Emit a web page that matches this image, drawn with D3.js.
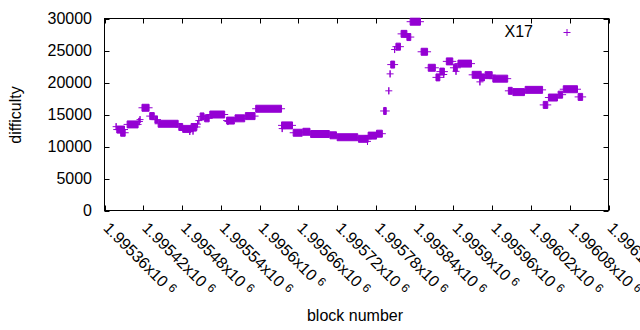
<!DOCTYPE html>
<html>
<head>
<meta charset="utf-8">
<script src="https://cdn.jsdelivr.net/npm/d3@7"></script>
<style>
    body { margin: 0; background: #fff; }
    svg { display: block; }
    text { font-family: "Liberation Sans", Arial, sans-serif; fill: #000; }
</style>
</head>
<body>
<div id="chart"></div>
<script>
// Runs of blocks sharing the same difficulty: [first block, last block, difficulty]
const runStart = [
    1995378, 1995379, 1995385, 1995395, 1995413, 1995415, 1995418, 1995430, 1995438, 1995443,
    1995475, 1995481, 1995492, 1995497, 1995494, 1995504, 1995506, 1995508, 1995515, 1995523,
    1995551, 1995549, 1995562, 1995578, 1995594, 1995635, 1995634, 1995652, 1995667, 1995679,
    1995709, 1995720, 1995753, 1995767, 1995768, 1995781, 1995792, 1995800, 1995802, 1995803,
    1995809, 1995811, 1995819, 1995828, 1995833, 1995850, 1995861, 1995873, 1995879, 1995885,
    1995889, 1995900, 1995904, 1995907, 1995929, 1995941, 1995941, 1995949, 1995961, 1995985,
    1995992, 1996011, 1996039, 1996047, 1996062, 1996070, 1996093
];
const runEnd = [
    1995378, 1995391, 1995392, 1995412, 1995414, 1995415, 1995429, 1995437, 1995442, 1995474,
    1995481, 1995494, 1995492, 1995497, 1995503, 1995504, 1995506, 1995514, 1995522, 1995546,
    1995551, 1995561, 1995577, 1995593, 1995634, 1995635, 1995651, 1995666, 1995678, 1995708,
    1995719, 1995752, 1995768, 1995767, 1995781, 1995790, 1995796, 1995800, 1995802, 1995809,
    1995809, 1995818, 1995828, 1995834, 1995849, 1995860, 1995872, 1995879, 1995886, 1995885,
    1995899, 1995906, 1995904, 1995928, 1995943, 1995941, 1995948, 1995960, 1995984, 1995991,
    1996010, 1996038, 1996046, 1996061, 1996069, 1996092, 1996100
];
const runDiff = [
    13100, 12650, 12150, 13450, 13900, 14200, 16050, 14750, 14200, 13550,
    13050, 12750, 12350, 12400, 13050, 13500, 14050, 14700, 14400, 15000,
    13900, 14050, 14400, 14750, 15900, 12800, 13300, 12150, 12300, 11950,
    11750, 11450, 11200, 10800, 11700, 12000, 15550, 18700, 21350, 22800,
    25150, 25600, 27600, 27100, 29500, 24800, 22300, 20800, 21700, 21250,
    23300, 22300, 21750, 22950, 21200, 20100, 20800, 21150, 20600, 18700,
    18500, 18850, 16500, 17650, 18100, 18950, 17750
];

// Axis ticks
const xTicks = [1995360, 1995420, 1995480, 1995540, 1995600, 1995660, 1995720,
                1995780, 1995840, 1995900, 1995960, 1996020, 1996080, 1996140];
const yTicks = [0, 5000, 10000, 15000, 20000, 25000, 30000];

const seriesName = "X17";
const color = "#9400d3";

const width = 640;
const height = 330;
const plot = { left: 104.5, right: 608.5, top: 18.5, bottom: 210.5 };

const x = d3.scaleLinear().domain([1995360, 1996140]).range([plot.left, plot.right]);
const y = d3.scaleLinear().domain([0, 30000]).range([plot.bottom, plot.top]);

const svg = d3.select("#chart")
    .append("svg")
    .attr("width", width)
    .attr("height", height);

const tickLen = 5;
const ticks = svg.append("g")
    .attr("stroke", "#000")
    .attr("stroke-width", 1);

// Inward ticks on all four sides (mirrored)
yTicks.forEach(v => {
    const py = Math.round(y(v)) + 0.5;
    ticks.append("line").attr("x1", plot.left).attr("x2", plot.left + tickLen).attr("y1", py).attr("y2", py);
    ticks.append("line").attr("x1", plot.right).attr("x2", plot.right - tickLen).attr("y1", py).attr("y2", py);
});
xTicks.forEach(v => {
    const px = Math.round(x(v)) + 0.5;
    ticks.append("line").attr("x1", px).attr("x2", px).attr("y1", plot.bottom).attr("y2", plot.bottom - tickLen);
    ticks.append("line").attr("x1", px).attr("x2", px).attr("y1", plot.top).attr("y2", plot.top + tickLen);
});

// Plot border
svg.append("rect")
    .attr("x", plot.left)
    .attr("y", plot.top)
    .attr("width", plot.right - plot.left)
    .attr("height", plot.bottom - plot.top)
    .attr("fill", "none")
    .attr("stroke", "#000")
    .attr("stroke-width", 1);

// Y tick labels
svg.append("g")
    .selectAll("text")
    .data(yTicks)
    .join("text")
    .attr("x", 92)
    .attr("y", d => y(d))
    .attr("dy", "0.36em")
    .attr("text-anchor", "end")
    .style("font-size", "16px")
    .text(d => d);

// X tick labels, rotated, with a superscript exponent
// (the last one runs off the right edge, as in the original)
const xLabels = svg.append("g")
    .selectAll("text")
    .data(xTicks)
    .join("text")
    .attr("transform", d => `translate(${x(d) - 2},229) rotate(45)`)
    .attr("text-anchor", "start")
    .style("font-size", "16px");
xLabels.append("tspan").text(d => String(+(d / 1e6).toFixed(5)) + "x10 ");
xLabels.append("tspan")
    .attr("dy", -4)
    .style("font-size", "12px")
    .text("6");

// Axis titles
svg.append("text")
    .attr("transform", "translate(21,115) rotate(-90)")
    .attr("text-anchor", "middle")
    .style("font-size", "16px")
    .text("difficulty");

svg.append("text")
    .attr("x", 355)
    .attr("y", 321)
    .attr("text-anchor", "middle")
    .style("font-size", "16px")
    .text("block number");

// Points: a run of "+" markers merges into a box with whiskers
const a = 3.5;
svg.append("g")
    .selectAll("path")
    .data(runStart.map((s, i) => ({ s: s, e: runEnd[i], d: runDiff[i] })))
    .join("path")
    .attr("fill", color)
    .attr("stroke", color)
    .attr("stroke-width", 1)
    .attr("d", r => {
        const x0 = x(r.s), x1 = x(r.e), py = y(r.d);
        return `M${x0 - a},${py}H${x1 + a}` +
            `M${x0},${py - a}V${py + a}H${x1}V${py - a}Z`;
    });

// Legend
svg.append("text")
    .attr("x", 533)
    .attr("y", 37)
    .attr("text-anchor", "end")
    .style("font-size", "16px")
    .text(seriesName);
svg.append("path")
    .attr("stroke", color)
    .attr("stroke-width", 1)
    .attr("d", `M${567 - a},32.5H${567 + a}M567,${32.5 - a}V${32.5 + a}`);
</script>
</body>
</html>
